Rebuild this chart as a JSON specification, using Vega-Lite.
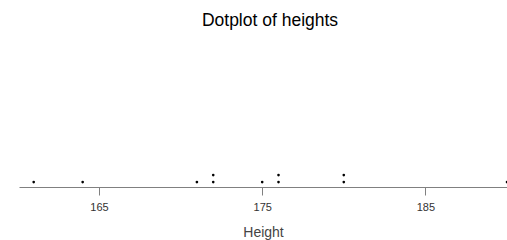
{
  "$schema": "https://vega.github.io/schema/vega-lite/v6.json",
  "autosize": "none",
  "width": 488,
  "height": 150,
  "padding": {"left": 19, "top": 37, "right": 0, "bottom": 53},
  "background": "white",
  "title": {"text": "Dotplot of heights", "font": "Liberation Sans", "fontSize": 17.5, "fontWeight": "normal", "color": "black", "anchor": "middle", "dx": 7, "dy": 16, "offset": 10, "baseline": "alphabetic"},
  "data": {"values": [
    {"height": 161, "level": 1},
    {"height": 164, "level": 1},
    {"height": 171, "level": 1},
    {"height": 172, "level": 1},
    {"height": 172, "level": 2},
    {"height": 175, "level": 1},
    {"height": 176, "level": 1},
    {"height": 176, "level": 2},
    {"height": 180, "level": 1},
    {"height": 180, "level": 2},
    {"height": 190, "level": 1}
  ]},
  "mark": {"type": "circle", "size": 7, "color": "black", "opacity": 1, "clip": false},
  "encoding": {
    "x": {"field": "height", "type": "quantitative", "scale": {"domain": [160.1, 190], "nice": false, "zero": false},
      "axis": {"title": "Height", "values": [165, 175, 185], "grid": false, "domainColor": "#808080", "tickColor": "#808080", "tickSize": 8, "labelFont": "Liberation Sans", "labelFontSize": 11, "labelColor": "#333333", "labelPadding": 6, "titleFont": "Liberation Sans", "titleFontSize": 14, "titleFontWeight": "normal", "titleColor": "#444444", "titlePadding": 13}},
    "y": {"field": "level", "type": "quantitative", "scale": {"domain": [0.3, 21.73], "nice": false, "zero": false}, "axis": null}
  },
  "config": {"view": {"stroke": null}}
}
